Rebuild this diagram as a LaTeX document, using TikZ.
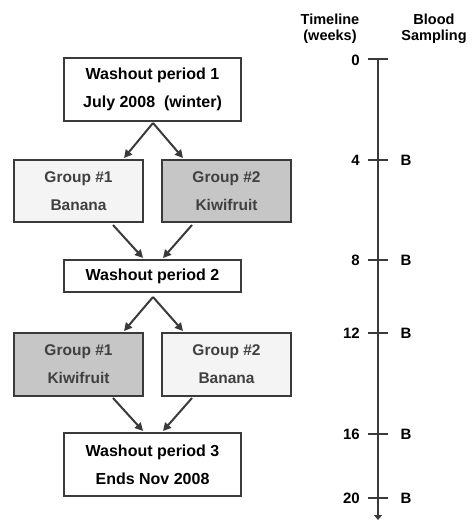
\documentclass[tikz,border=0pt]{standalone}
\usepackage{fontspec}
\setmainfont{Liberation Sans}
\usetikzlibrary{arrows.meta}
\definecolor{edge}{HTML}{3A3A3A}
\definecolor{lightfill}{HTML}{F4F4F4}
\definecolor{darkfill}{HTML}{C6C6C6}
\tikzset{
  washbox/.style={draw=edge, line width=1.8pt, fill=white, font=\fontsize{16}{28}\selectfont\bfseries, align=center, inner sep=0pt},
  groupbox/.style={draw=edge, line width=1.5pt, font=\fontsize{15.5}{28}\selectfont\bfseries, text=black!75, align=center, inner sep=0pt},
  flow/.style={draw=edge, line width=2pt, -{Triangle[length=8pt,width=8pt]}},
  axisline/.style={draw=edge, line width=2.2pt},
  tick/.style={draw=edge, line width=1.5pt},
  ticklab/.style={font=\fontsize{15}{15}\selectfont\bfseries, anchor=east, inner sep=0pt},
  blab/.style={font=\fontsize{15}{15}\selectfont\bfseries, inner sep=0pt},
  head/.style={font=\fontsize{14.5}{16}\selectfont\bfseries, align=center, inner sep=0pt}
}
\begin{document}
\begin{tikzpicture}[x=1pt,y=-1pt]
\useasboundingbox (0,0) rectangle (474,521);
% flow boxes
\node[washbox, minimum width=177pt, minimum height=63pt] (w1) at (152.5,89.5) {Washout period 1\\July 2008 \ (winter)};
\node[groupbox, fill=lightfill, minimum width=129pt, minimum height=62pt] (g1) at (78.5,191) {Group \#1\\Banana};
\node[groupbox, fill=darkfill, minimum width=129pt, minimum height=62pt] (g2) at (226.5,191) {Group \#2\\Kiwifruit};
\node[washbox, minimum width=177pt, minimum height=32pt] (w2) at (152.5,276) {Washout period 2};
\node[groupbox, fill=darkfill, minimum width=129pt, minimum height=63pt] (g3) at (78.5,364.5) {Group \#1\\Kiwifruit};
\node[groupbox, fill=lightfill, minimum width=129pt, minimum height=63pt] (g4) at (226.5,364.5) {Group \#2\\Banana};
\node[washbox, minimum width=177pt, minimum height=63pt] (w3) at (152.5,464.5) {Washout period 3\\Ends Nov 2008};
% arrow anchors
\coordinate (a1) at (153,123);
\coordinate (t1) at (124,158);
\coordinate (t2) at (183,158);
\coordinate (s1) at (113,225);
\coordinate (s2) at (192,225);
\coordinate (e1) at (143,258);
\coordinate (e2) at (163,258);
\coordinate (a2) at (153,297);
\coordinate (t3) at (124,331);
\coordinate (t4) at (183,331);
\coordinate (s3) at (113,398);
\coordinate (s4) at (192,398);
\coordinate (e3) at (143,431);
\coordinate (e4) at (163,431);
\draw[flow] (a1) -- (t1);
\draw[flow] (a1) -- (t2);
\draw[flow] (s1) -- (e1);
\draw[flow] (s2) -- (e2);
\draw[flow] (a2) -- (t3);
\draw[flow] (a2) -- (t4);
\draw[flow] (s3) -- (e3);
\draw[flow] (s4) -- (e4);
% timeline
\node[head] (h1) at (330,29) {Timeline\\(weeks)};
\node[head] (h2) at (434,29) {Blood\\Sampling};
\coordinate (top) at (378,59);
\coordinate (bot) at (378,520);
\draw[axisline, -{Triangle[length=5pt,width=8pt]}] (top) -- (bot);
\draw[axisline] (368,59) -- (388,59);
\node[ticklab] (l0) at (360,60) {0};
\foreach \w/\yy/\nm in {4/160/b4, 8/260/b8, 12/333/b12, 16/434/b16, 20/498/b20}{
  \draw[tick] (368,\yy) -- (388,\yy);
  \node[ticklab] (l\w) at (360,\yy) {\w};
  \node[blab] (\nm) at (406,\yy) {B};
}
\end{tikzpicture}
\end{document}
